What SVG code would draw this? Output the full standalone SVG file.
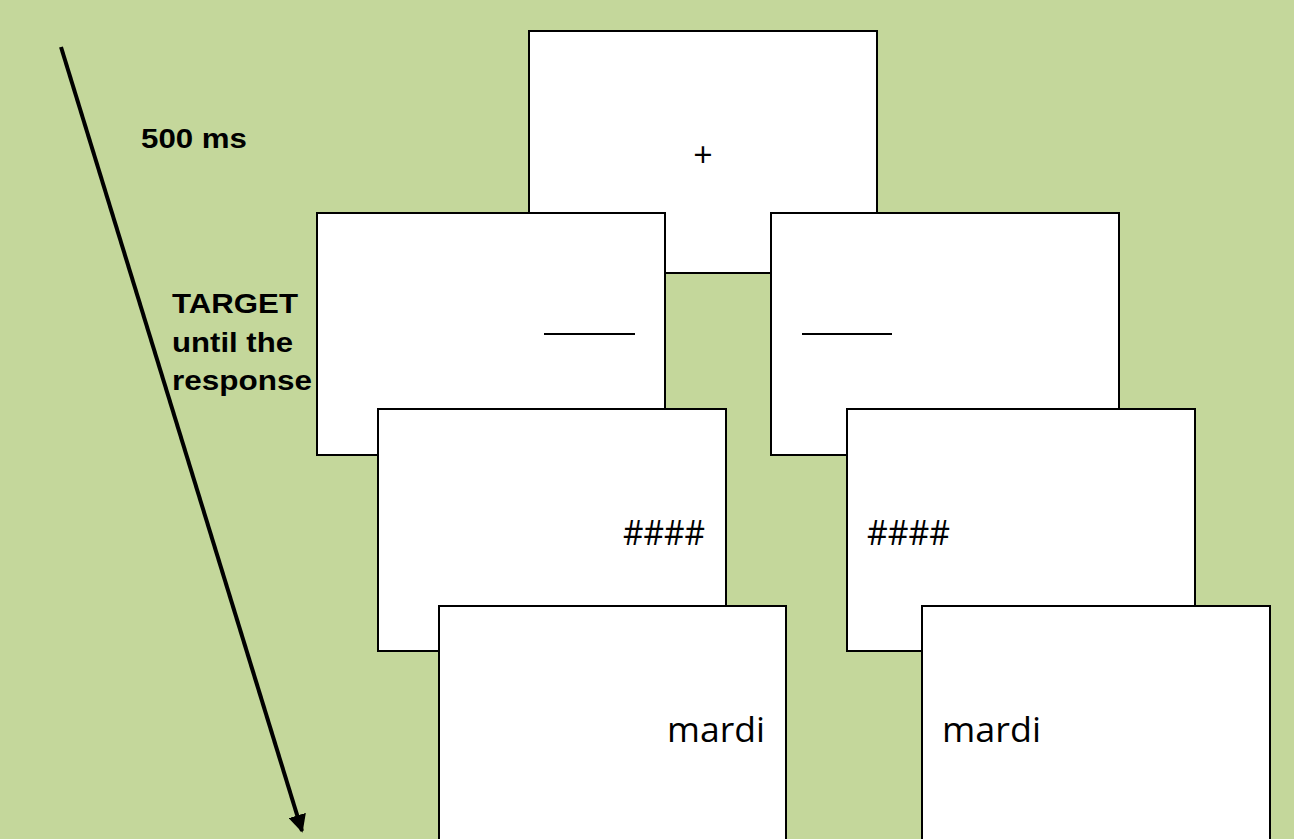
<svg xmlns="http://www.w3.org/2000/svg" width="1294" height="839" viewBox="0 0 1294 839">
<style>
.screen{fill:#ffffff;stroke:#000000;stroke-width:2}
.dash{stroke:#000000;stroke-width:2}
.stim{font-family:"Open Sans","Noto Sans",sans-serif;font-size:34px;fill:#000000}
.lbl{font-family:"Liberation Sans",Arial,sans-serif;font-weight:bold;font-size:28px;fill:#000000}
</style>
<defs>
<marker id="ah" viewBox="0 0 10 10" refX="9" refY="5" markerWidth="4.5" markerHeight="4.5" markerUnits="strokeWidth" orient="auto">
<path d="M0,0 L10,5 L0,10 z" fill="#000000"/>
</marker>
</defs>
<rect x="0" y="0" width="1294" height="839" fill="#C4D79B"/>
<g id="fixation">
<rect class="screen" x="529" y="31" width="348" height="242"/>
<text class="stim" x="703" y="167" text-anchor="middle">+</text>
</g>
<g id="cue-left">
<rect class="screen" x="317" y="213" width="348" height="242"/>
<line class="dash" x1="544" y1="334" x2="635" y2="334"/>
</g>
<g id="cue-right">
<rect class="screen" x="771" y="213" width="348" height="242"/>
<line class="dash" x1="802" y1="334" x2="892" y2="334"/>
</g>
<g id="mask-left">
<rect class="screen" x="378" y="409" width="348" height="242"/>
<text class="stim" x="623" y="545" textLength="82" lengthAdjust="spacingAndGlyphs">####</text>
</g>
<g id="mask-right">
<rect class="screen" x="847" y="409" width="348" height="242"/>
<text class="stim" x="867" y="545" textLength="83" lengthAdjust="spacingAndGlyphs">####</text>
</g>
<g id="target-left">
<rect class="screen" x="439" y="606" width="347" height="250"/>
<text class="stim" x="667" y="742" textLength="98" lengthAdjust="spacingAndGlyphs">mardi</text>
</g>
<g id="target-right">
<rect class="screen" x="922" y="606" width="348" height="250"/>
<text class="stim" x="942" y="742" textLength="99" lengthAdjust="spacingAndGlyphs">mardi</text>
</g>
<g id="connectors">
<line x1="61" y1="47" x2="302" y2="831" stroke="#000000" stroke-width="4" marker-end="url(#ah)"/>
</g>
<g id="labels">
<text class="lbl" x="141" y="148" textLength="106" lengthAdjust="spacingAndGlyphs">500 ms</text>
<text class="lbl" x="172" y="313" textLength="126" lengthAdjust="spacingAndGlyphs">TARGET</text>
<text class="lbl" x="172" y="352" textLength="121" lengthAdjust="spacingAndGlyphs">until the</text>
<text class="lbl" x="172" y="390" textLength="140" lengthAdjust="spacingAndGlyphs">response</text>
</g>
</svg>
